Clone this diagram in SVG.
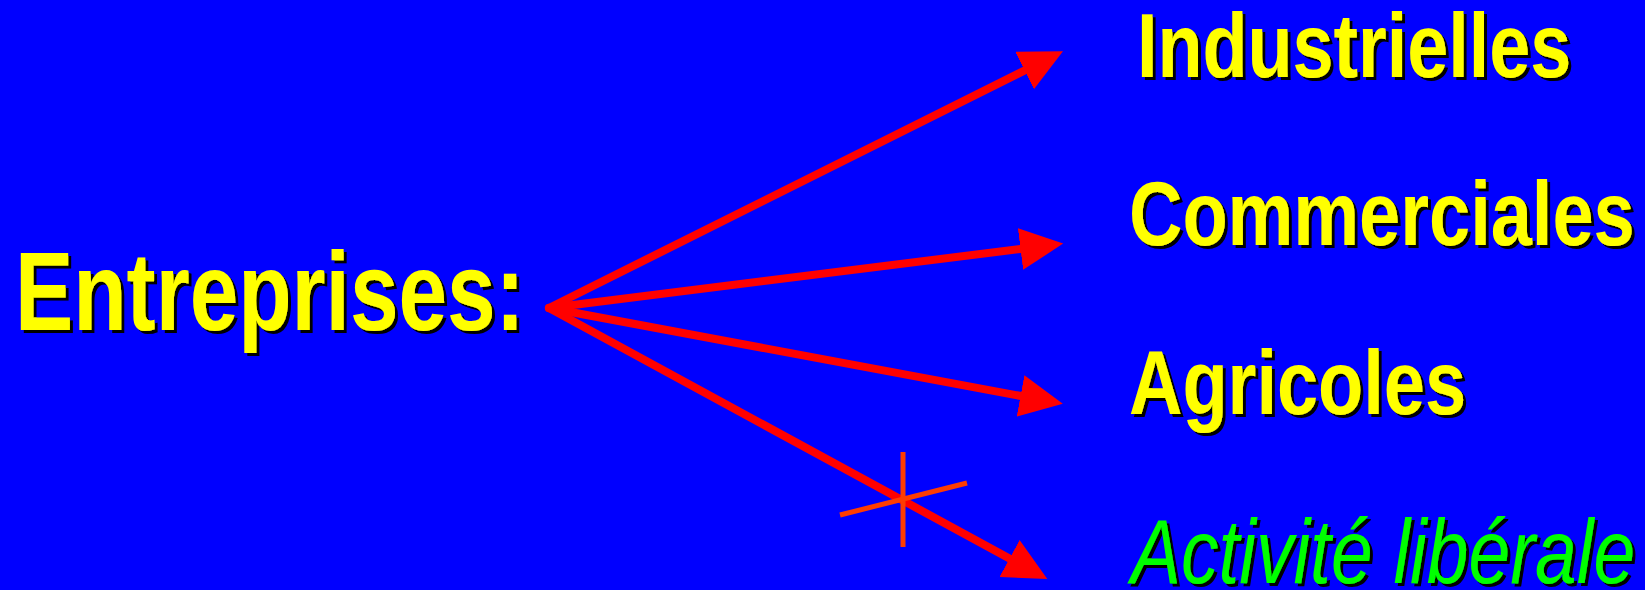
<svg xmlns="http://www.w3.org/2000/svg" width="1645" height="590" viewBox="0 0 1645 590">
<style>
.sh{filter:url(#sh)}
.lbl{font-family:"Liberation Sans",Arial,sans-serif;font-weight:bold;fill:#ffff00}
.lib{font-family:"Liberation Sans",Arial,sans-serif;font-style:italic;fill:#00ff00}
.arr{stroke:#ff0000;stroke-width:8;stroke-linecap:round;fill:none;marker-end:url(#ah)}
.x{stroke:#ff3c00;stroke-width:5;fill:none}
</style>
<defs>
<filter id="sh" x="-5%" y="-10%" width="115%" height="130%">
<feDropShadow dx="3" dy="3" stdDeviation="0" flood-color="#000000" flood-opacity="1"/>
</filter>
<marker id="ah" viewBox="0 0 43 42" refX="2" refY="21" markerWidth="43" markerHeight="42" markerUnits="userSpaceOnUse" orient="auto">
<path d="M0,0 L43,21 L0,42 z" fill="#ff0000"/>
</marker>
</defs>
<rect x="0" y="0" width="1645" height="590" fill="#0000ff"/>
<g id="connectors">
<line class="arr" x1="549" y1="308" x2="1026.3" y2="69.6"/>
<line class="arr" x1="549" y1="308" x2="1022.5" y2="248.7"/>
<line class="arr" x1="549" y1="308" x2="1022.5" y2="396.3"/>
<line class="arr" x1="549" y1="308" x2="1011.3" y2="559.5"/>
<line class="x" x1="903" y1="452" x2="903" y2="547"/>
<line class="x" x1="840" y1="515" x2="967" y2="483"/>
</g>
<g id="entreprises" class="sh"><text class="lbl" transform="translate(15,330) scale(0.78,1)" font-size="112">Entreprises:</text></g>
<g id="industrielles" class="sh"><text class="lbl" transform="translate(1137,77) scale(0.81,1)" font-size="91">Industrielles</text></g>
<g id="commerciales" class="sh"><text class="lbl" transform="translate(1129,245) scale(0.813,1)" font-size="91">Commerciales</text></g>
<g id="agricoles" class="sh"><text class="lbl" transform="translate(1129,414) scale(0.813,1)" font-size="91">Agricoles</text></g>
<g id="activite" class="sh"><text class="lib" transform="translate(1131,583) scale(0.824,1)" font-size="91">Activité libérale</text></g>
</svg>
